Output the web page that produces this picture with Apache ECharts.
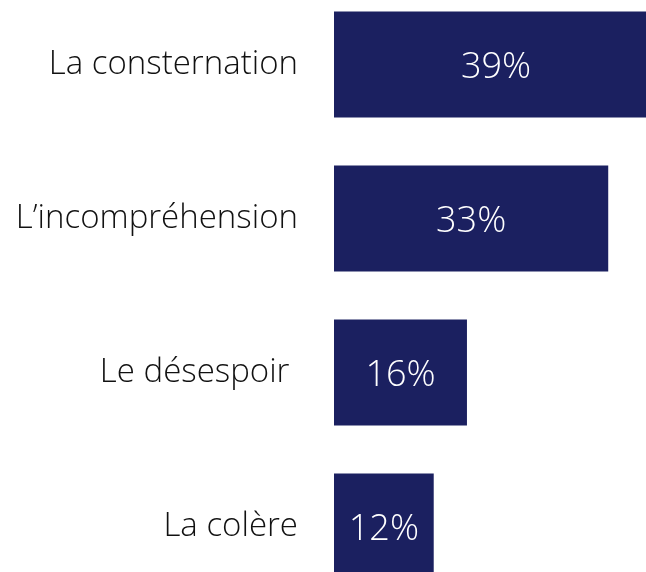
<!DOCTYPE html>
<html>
<head>
<meta charset="utf-8">
<script src="https://cdn.jsdelivr.net/npm/echarts@6/dist/echarts.min.js"></script>
<style>
  html, body { margin: 0; padding: 0; background: #fff; }
  #chart { width: 646px; height: 572px; }
</style>
</head>
<body>
<div id="chart"></div>
<script>
// 類別與數值
const categories = ['La consternation', 'L’incompréhension', 'Le désespoir ', 'La colère']
const values = [39, 33, 16, 12]

const barColor = '#1b2060'
const fontFamily = '"Open Sans", "Noto Sans", sans-serif'

const myChart = echarts.init(document.getElementById('chart'))

const option = {
  animation: false, // 關閉動畫
  grid: {
    left: 334,
    width: 332.4, // 0~40% 的寬度，最長的條會超出畫面
    top: -12.5,
    height: 616,
    outerBoundsMode: 'none', // 不要把網格縮回畫面內
    containLabel: false,
  },
  xAxis: {
    type: 'value',
    min: 0,
    max: 40,
    show: false,
  },
  yAxis: {
    type: 'category',
    inverse: true,
    data: categories,
    axisLine: { show: false },
    axisTick: { show: false },
    splitLine: { show: false },
    axisLabel: {
      margin: 36,
      padding: [5, 0, 0, 0], // 文字稍微往下
      color: '#111',
      fontSize: 33,
      fontWeight: 300,
      fontFamily: fontFamily,
    },
  },
  series: [
    {
      type: 'bar',
      data: values,
      barWidth: 106,
      itemStyle: { color: barColor },
      label: {
        show: true,
        position: 'inside',
        offset: [0, 3],
        formatter: '{c}%',
        color: '#fff',
        fontSize: 36,
        fontWeight: 300,
        fontFamily: fontFamily,
      },
    },
  ],
}

myChart.setOption(option)
</script>
</body>
</html>
